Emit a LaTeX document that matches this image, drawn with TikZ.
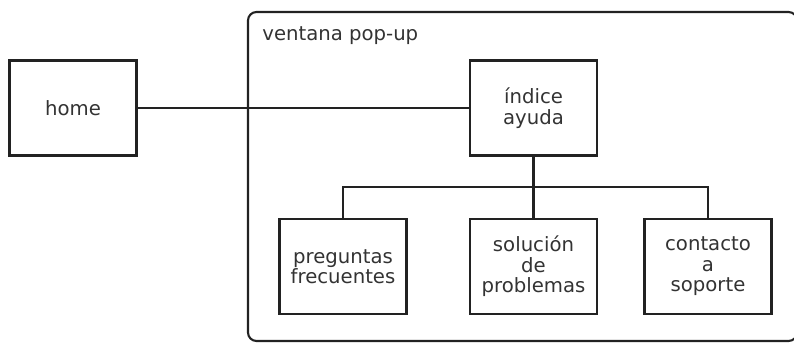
\documentclass[tikz,border=0pt]{standalone}
\usepackage{fontspec}
\setmainfont{DejaVu Sans}
\usepackage{tikz}
\definecolor{boxline}{HTML}{222222}
\definecolor{boxtext}{HTML}{333333}

\begin{document}
\begin{tikzpicture}[x=0.02cm,y=0.02cm]
        \tikzset{
        site box/.style={rectangle,draw=boxline,line width=1.2pt,minimum width=2.54cm,minimum height=1.9cm,inner sep=0,align=center,text=boxtext,font=\fontsize{11.2}{11.6}\selectfont},
        site edge/.style={draw=boxline,line width=1.2pt}
        }
        \useasboundingbox (0,0) rectangle (794,343);
        % ventana pop-up
        \draw[site edge, rounded corners=0.17cm] (248,2) rectangle (797,331);
        \node[anchor=base west, inner sep=0, text=boxtext, font=\fontsize{11.2}{11.6}\selectfont] (popup) at (262,303) {ventana pop-up};

        \node[site box] (home) at (73,235) {home};
        \node[site box] (indice) at (533.5,235) {índice\\ayuda};
        \node[site box] (preguntas) at (343,76.5) {preguntas\\frecuentes};
        \node[site box] (solucion) at (533.5,76.5) {solución\\de\\problemas};
        \node[site box] (contacto) at (708,76.5) {contacto\\a\\soporte};
        \coordinate (bar) at (533.5,156);

        \draw[site edge] (home) -- (indice);
        \draw[site edge] (indice) -- (solucion);
        \draw[site edge] (preguntas.north) |- (bar) -| (contacto.north);
    \end{tikzpicture}
\end{document}
